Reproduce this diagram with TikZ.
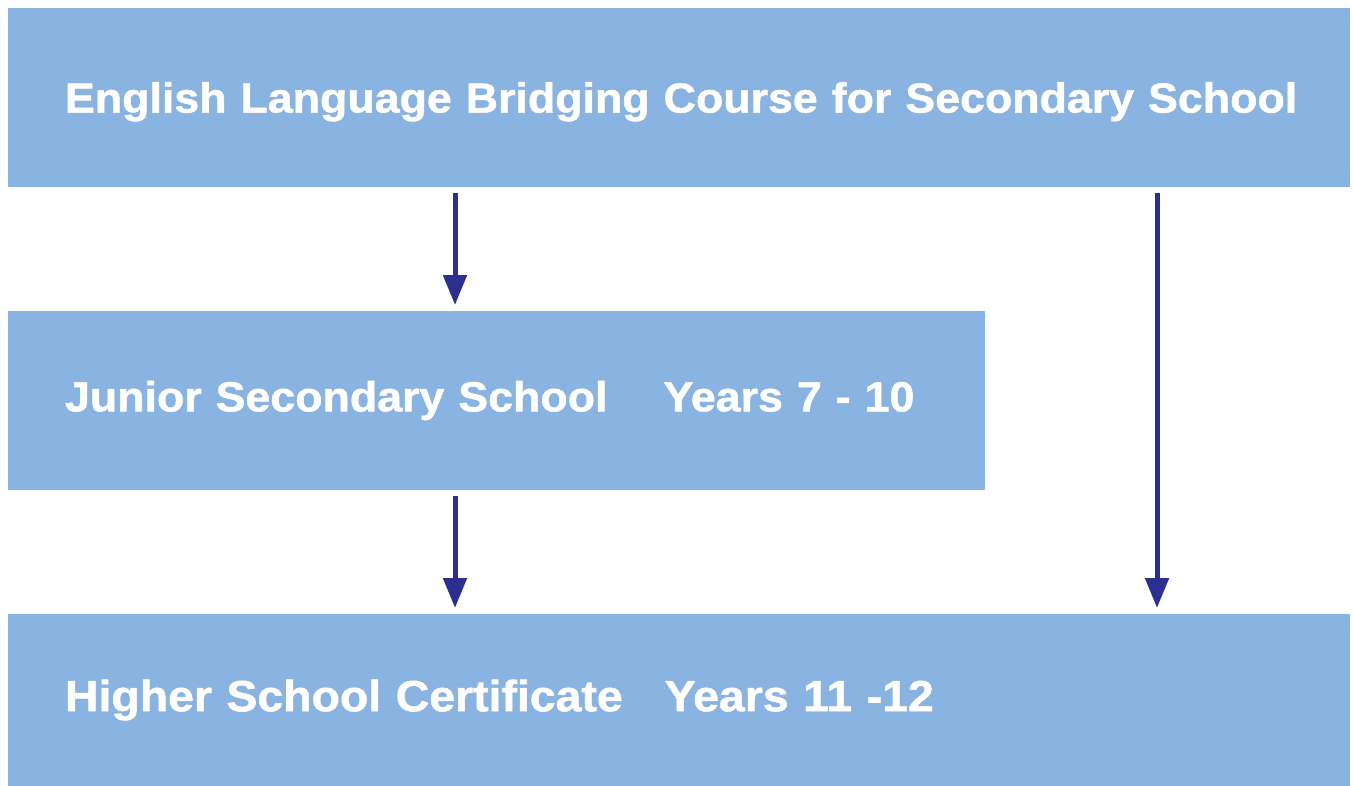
\documentclass[tikz,border=0pt]{standalone}
\usepackage{fontspec}
\setmainfont{Liberation Sans}[FakeStretch=1.065,BoldFeatures={FakeBold=1.2}]
\usetikzlibrary{arrows.meta,positioning}
\definecolor{boxblue}{RGB}{137,179,224}
\definecolor{arrowblue}{RGB}{43,47,143}

\begin{document}
\begin{tikzpicture}[font=\bfseries\fontsize{23.9}{28}\selectfont,
    line/.style={draw=arrowblue, line width=0.1cm, shorten <=0.12cm, shorten >=0.12cm,
      -{Triangle[width=0.46cm,length=0.6cm]}},
    stage/.style={fill=boxblue, text=white, anchor=north west, align=left,
      inner xsep=1.14cm, inner ysep=0pt, outer sep=0pt, minimum height=3.58cm},
    ]
    \useasboundingbox (0,0) rectangle (27.06,-15.70);
    % Place nodes
    \node [stage, text width=24.56cm, text height=0.78cm] (bridge) at (0.16,-0.16)
      {\mbox{English Language Bridging Course for Secondary School}};
    \node [stage, text width=17.26cm, below right=2.48cm and 0cm of bridge.south west] (junior)
      {Junior Secondary School\hspace{1.12cm}Years 7 - 10};
    \node [stage, text width=24.56cm, minimum height=3.44cm, font=\bfseries\fontsize{24.8}{28}\selectfont,
      below right=2.48cm and 0cm of junior.south west] (hsc)
      {Higher School Certificate\hspace{0.84cm}Years 11 -12};

    \coordinate (left) at (9.1,0);
    \coordinate (right) at (23.14,0);

    % Draw edges
    \path [line] (bridge.south -| left) -- (junior.north -| left);
    \path [line] (junior.south -| left) -- (hsc.north -| left);
    \path [line] (bridge.south -| right) -- (hsc.north -| right);
\end{tikzpicture}
\end{document}
